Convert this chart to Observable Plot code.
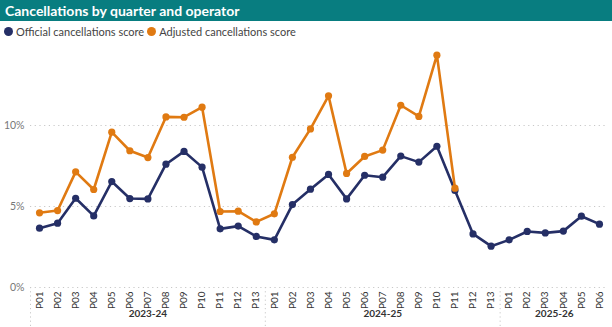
<!DOCTYPE html>
<html><head><meta charset="utf-8">
<script src="https://cdn.jsdelivr.net/npm/d3@7"></script>
<script src="https://cdn.jsdelivr.net/npm/@observablehq/plot@0.6"></script>
<style>
html,body{margin:0;padding:0;background:#fff;width:612px;height:327px;overflow:hidden}
#title{height:21px;background:#087d80;color:#fff;font:bold 14px Lato,"Open Sans",sans-serif;padding-left:5px;line-height:21px;white-space:nowrap}
#legend{height:21px;display:flex;align-items:center;font:11px Lato,"Open Sans",sans-serif;color:#444;padding-left:4px}
#legend .item{display:flex;align-items:center;margin-right:3px}
#legend .sw{width:9px;height:9px;border-radius:50%;margin-right:3px;display:inline-block}
#chart svg{display:block}
</style>
</head><body>
<div id="title">Cancellations by quarter and operator</div>
<div id="legend"></div>
<div id="chart"></div>
<script>
const seriesNames = ["Official cancellations score", "Adjusted cancellations score"];
const seriesColors = ["#252f66", "#e07a12"];
const years = ["2023-24", "2024-25", "2025-26"];
const periodsPerYear = [13, 13, 6];
const periodLabels = ["P01","P02","P03","P04","P05","P06","P07","P08","P09","P10","P11","P12","P13"];
const official = [3.66,3.97,5.51,4.42,6.54,5.49,5.47,7.61,8.40,7.43,3.62,3.79,3.15,
                  2.94,5.12,6.07,6.98,5.47,6.93,6.81,8.11,7.74,8.72,5.99,3.31,2.55,
                  2.94,3.46,3.37,3.48,4.40,3.91];
const adjusted = [4.61,4.75,7.14,6.05,9.59,8.44,8.02,10.53,10.51,11.13,4.69,4.71,4.05,
                  4.55,8.04,9.79,11.83,7.04,8.09,8.48,11.25,10.56,14.34,6.13,null,null,
                  null,null,null,null,null,null];
const yTicks = [0, 5, 10];

// legend
const legend = document.getElementById("legend");
seriesNames.forEach((n, k) => {
  const it = document.createElement("span"); it.className = "item";
  const sw = document.createElement("span"); sw.className = "sw"; sw.style.background = seriesColors[k];
  it.appendChild(sw); it.appendChild(document.createTextNode(n));
  legend.appendChild(it);
});

// rows
const rows = [];
const groups = [];
let idx = 0;
years.forEach((y, g) => {
  const start = idx;
  for (let p = 0; p < periodsPerYear[g]; p++) {
    rows.push({i: idx, period: periodLabels[p], year: y, official: official[idx], adjusted: adjusted[idx]});
    idx++;
  }
  groups.push({year: y, center: (start + idx - 1) / 2, start: start - 0.5});
});
const adjRows = rows.filter(d => d.adjusted != null);

const W = 612, H = 285, mT = 2, mB = 40, mL = 30, mR = 4;
const font = "Lato, 'Open Sans', sans-serif";

const plot = Plot.plot({
  width: W, height: H, marginTop: mT, marginBottom: mB, marginLeft: mL, marginRight: mR,
  style: {fontFamily: font, background: "#fff"},
  x: {type: "linear", domain: [-0.5, rows.length - 0.5], axis: null},
  y: {domain: [0, 15], axis: null},
  marks: [
    Plot.gridY(yTicks, {stroke: "#c8c8c8", strokeOpacity: 1, strokeDasharray: "1.2,3.5"}),
    Plot.axisY(yTicks, {tickSize: 0, tickPadding: 6, tickFormat: d => d + "%", fill: "#777", fontSize: 10.5}),
    Plot.axisX(rows.map(d => d.i), {tickSize: 0, tickPadding: 4, tickRotate: -90, tickFormat: i => rows[i].period, fill: "#333", fontSize: 10}),
    Plot.ruleX(groups, {x: "start", stroke: "#c8c8c8", strokeDasharray: "1.2,3", insetTop: H - mT - mB, insetBottom: -mB}),
    Plot.text(groups, {x: "center", text: "year", frameAnchor: "bottom", dy: 29, fill: "#333", fontWeight: "bold", fontSize: 10}),
    Plot.line(rows, {x: "i", y: "official", stroke: seriesColors[0], strokeWidth: 2.6}),
    Plot.dot(rows, {x: "i", y: "official", fill: seriesColors[0], r: 3.6}),
    Plot.line(adjRows, {x: "i", y: "adjusted", stroke: seriesColors[1], strokeWidth: 2.6}),
    Plot.dot(adjRows, {x: "i", y: "adjusted", fill: seriesColors[1], r: 3.6})
  ]
});
document.getElementById("chart").appendChild(plot);
</script>
</body></html>
